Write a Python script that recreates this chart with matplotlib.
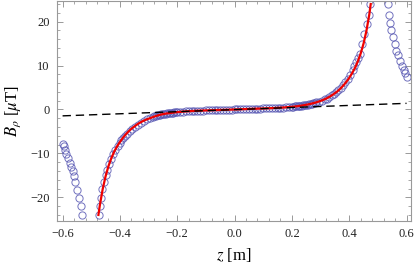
import numpy as np
import matplotlib
matplotlib.use("Agg")
from matplotlib import pyplot as plt
from matplotlib.ticker import MultipleLocator

plt.rcParams['font.family'] = ['Liberation Serif', 'DejaVu Serif']
plt.rcParams['mathtext.fontset'] = 'stix'

z_outer_left = [-0.599, -0.596, -0.592, -0.587, -0.581, -0.575, -0.570, -0.565,
                -0.560, -0.555, -0.549, -0.544, -0.537, -0.531]
b_outer_left = [-7.8, -8.4, -9.2, -10.1, -11.1, -12.1, -13.1, -14.1,
                -15.2, -16.4, -18.3, -20.2, -22.0, -24.1]

z_inner_left = [-0.474, -0.471, -0.467, -0.461, -0.456, -0.450, -0.444, -0.438,
                -0.430, -0.424, -0.416, -0.407, -0.401, -0.395, -0.390, -0.384,
                -0.375, -0.366, -0.358, -0.349, -0.337, -0.325, -0.315, -0.305,
                -0.296]
b_inner_left = [-24.1, -22.0, -20.1, -18.0, -16.4, -15.0, -13.7, -12.3,
                -11.2, -10.1, -9.2, -8.2, -7.6, -7.0, -6.5, -6.1,
                -5.5, -5.0, -4.5, -4.0, -3.5, -3.0, -2.6, -2.2,
                -2.0]

z_center = [-0.285, -0.28, -0.275, -0.27, -0.265, -0.26, -0.255, -0.25, -0.245,
            -0.24, -0.235, -0.23, -0.225, -0.22, -0.215, -0.21, -0.205, -0.20,
            -0.19, -0.18, -0.17, -0.16, -0.15, -0.14, -0.13, -0.12, -0.11,
            -0.10, -0.09, -0.08, -0.07, -0.06, -0.05, -0.04, -0.03, -0.02,
            -0.01, 0.00, 0.01, 0.02, 0.03, 0.04, 0.05, 0.06, 0.07, 0.08,
            0.09, 0.10, 0.11, 0.12, 0.13, 0.14, 0.15, 0.16, 0.17, 0.18,
            0.19, 0.20, 0.205, 0.21, 0.215, 0.22, 0.225, 0.23, 0.235, 0.24,
            0.245, 0.25, 0.255, 0.26, 0.265, 0.27, 0.275, 0.28, 0.285]
b_center = [-1.75, -1.55, -1.45, -1.36, -1.28, -1.2, -1.13, -1.06, -1.0,
            -0.94, -0.89, -0.84, -0.8, -0.75, -0.71, -0.67, -0.63, -0.6,
            -0.53, -0.48, -0.43, -0.39, -0.35, -0.32, -0.29, -0.26, -0.24,
            -0.21, -0.19, -0.17, -0.15, -0.13, -0.11, -0.09, -0.07, -0.05,
            -0.02, 0.0, 0.03, 0.05, 0.07, 0.09, 0.12, 0.14, 0.16, 0.18,
            0.21, 0.23, 0.26, 0.28, 0.31, 0.34, 0.37, 0.41, 0.45, 0.5,
            0.55, 0.61, 0.64, 0.68, 0.72, 0.76, 0.8, 0.85, 0.9, 0.95,
            1.0, 1.06, 1.13, 1.2, 1.27, 1.35, 1.43, 1.52, 1.62]

z_inner_right = [0.296, 0.305, 0.315, 0.322, 0.331, 0.340, 0.347, 0.355,
                 0.362, 0.370, 0.378, 0.387, 0.395, 0.404, 0.413, 0.418,
                 0.424, 0.430, 0.436, 0.445, 0.453, 0.462, 0.469, 0.474]
b_inner_right = [1.7, 2.0, 2.3, 2.5, 2.8, 3.2, 3.5, 3.9,
                 4.4, 4.9, 5.5, 6.2, 7.0, 7.9, 8.9, 9.8,
                 10.8, 11.7, 12.7, 14.9, 17.2, 19.5, 21.6, 23.9]

z_outer_right = [0.535, 0.538, 0.541, 0.547, 0.552, 0.558, 0.564, 0.570,
                 0.576, 0.584, 0.590, 0.596, 0.601]
b_outer_right = [23.9, 21.6, 19.6, 18.0, 16.4, 14.9, 13.4, 12.3,
                 11.1, 10.0, 9.1, 8.3, 7.5]

# fitted curve (red)
z_fit = [-0.475, -0.47, -0.46, -0.45, -0.44, -0.43, -0.42, -0.41, -0.40,
         -0.39, -0.38, -0.37, -0.36, -0.35, -0.34, -0.33, -0.32, -0.31,
         -0.30, -0.28, -0.26, -0.24, -0.22, -0.20, -0.17, -0.14, -0.10,
         -0.05, 0.0, 0.05, 0.10, 0.14, 0.17, 0.20, 0.22, 0.24, 0.26,
         0.28, 0.30, 0.31, 0.32, 0.33, 0.34, 0.35, 0.36, 0.37, 0.38,
         0.39, 0.40, 0.41, 0.42, 0.43, 0.44, 0.45, 0.46, 0.47, 0.475]
b_fit = [-24.0, -21.8, -18.1, -15.2, -12.9, -11.1, -9.6, -8.4, -7.4,
         -6.5, -5.7, -5.0, -4.4, -3.9, -3.4, -3.0, -2.65, -2.35,
         -2.1, -1.6, -1.2, -0.94, -0.75, -0.6, -0.43, -0.32, -0.21,
         -0.11, 0.0, 0.12, 0.23, 0.34, 0.45, 0.61, 0.76, 0.95, 1.2,
         1.52, 1.95, 2.2, 2.5, 2.85, 3.25, 3.7, 4.2, 4.8, 5.5,
         6.3, 7.2, 8.25, 9.45, 10.95, 12.75, 15.0, 17.9, 21.6, 24.0]

# linear term (dashed)
z_lin = [-0.6, 0.6]
b_lin = [-1.45, 1.4]

z_meas = z_outer_left + z_inner_left + z_center + z_inner_right + z_outer_right
b_meas = b_outer_left + b_inner_left + b_center + b_inner_right + b_outer_right

fig = plt.figure(figsize=(4.15, 2.67), dpi=100)
ax = fig.add_axes([0.137, 0.172, 0.853, 0.826])

ax.plot(z_meas, b_meas, 'o', mfc='none', mec='#5a5ab4', mew=0.7, ms=5.2, alpha=0.85)
ax.plot(z_fit, b_fit, color='#ee0000', lw=1.6)
ax.plot(z_lin, b_lin, color='black', lw=1.0, dashes=(6, 3.5))

ax.set_xlim(-0.62, 0.615)
ax.set_ylim(-25.4, 24.8)

ax.xaxis.set_major_locator(MultipleLocator(0.2))
ax.xaxis.set_minor_locator(MultipleLocator(0.04))
ax.yaxis.set_major_locator(MultipleLocator(10))
ax.yaxis.set_minor_locator(MultipleLocator(2))
ax.xaxis.set_major_formatter(plt.FuncFormatter(lambda v, p: ('%.1f' % v).replace('-', '\u2212')))

for s in ax.spines.values():
    s.set_color('#999999')
    s.set_linewidth(0.8)
ax.tick_params(which='both', direction='in', top=True, right=True,
               color='#999999', labelsize=9, labelcolor='#222222')
ax.tick_params(which='major', length=4, width=0.7, pad=5)
ax.tick_params(which='minor', length=2, width=0.6)

ax.set_xlabel(r'$z$ [m]', fontsize=12, labelpad=4)
ax.set_ylabel(r'$B_\rho$ [$\mu$T]', fontsize=12, labelpad=5)

fig.savefig('out.png', dpi=100)
